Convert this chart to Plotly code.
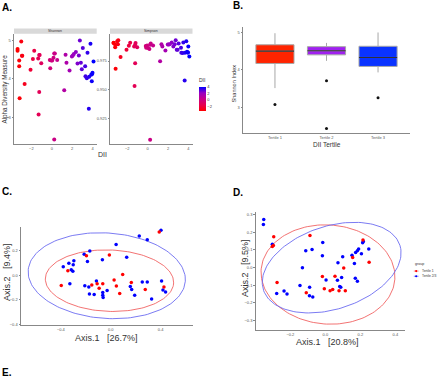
import numpy as np
import plotly.graph_objects as go

W, H = 440, 380
FONT = "Liberation Sans, Arial, sans-serif"

# ---------------- Panel A: alpha diversity vs DII ----------------
dii = [-3.35, -3.35, -3.19, -3.19, -3.15, -2.99, -2.89, -2.92, -2.66, -2.08,
       -1.85, -1.72, -1.33, -1.29, -1.23, -1.19, -1.23, -1.03, -0.19, -0.15,
       -0.06, 0.04, 0.17, 0.24, 0.24, 0.30, 0.53, 1.22, 1.35, 1.44,
       1.74, 1.97, 2.06, 2.16, 2.36, 2.52, 2.65, 2.75, 2.85, 2.94,
       3.04, 3.27, 3.30, 3.43, 3.50, 3.63, 3.66, 3.79, 3.86, 3.92,
       3.96, 3.99, 4.09]
shannon = [4.78, 4.73, 4.48, 4.33, 3.50, 4.97, 4.60, 4.60, 3.87, 4.24,
           4.52, 4.73, 4.53, 3.08, 4.62, 4.62, 3.66, 4.41, 4.49, 4.28,
           4.48, 4.48, 4.55, 4.66, 2.43, 4.66, 4.49, 3.71, 4.63, 4.42,
           4.22, 4.58, 4.61, 4.65, 4.70, 4.40, 4.61, 5.00, 4.42, 4.25,
           4.80, 4.33, 4.07, 4.02, 4.68, 3.23, 4.06, 4.91, 4.11, 3.94,
           4.13, 4.16, 4.45]
simpson = [0.9910, 0.9906, 0.9871, 0.9892, 0.9683, 0.9923, 0.9932, 0.9897, 0.9785, 0.9848,
           0.9883, 0.9909, 0.9877, 0.9533, 0.9892, 0.9906, 0.9730, 0.9871, 0.9880, 0.9866,
           0.9886, 0.9863, 0.9854, 0.9892, 0.9065, 0.9903, 0.9886, 0.9747, 0.9897, 0.9877,
           0.9842, 0.9895, 0.9895, 0.9897, 0.9912, 0.9877, 0.9897, 0.9932, 0.9848, 0.9848,
           0.9903, 0.9866, 0.9822, 0.9819, 0.9912, 0.9580, 0.9822, 0.9923, 0.9831, 0.9825,
           0.9825, 0.9877, 0.9790]
dii_ticks = [-2, 0, 2, 4]
shannon_ticks = [3, 4, 5]
simpson_ticks = [0.925, 0.950, 0.975]
dii_colorscale = [[0, "#FF0000"], [0.25, "#E7004F"], [0.5, "#C80088"],
                  [0.75, "#9900C2"], [1, "#0000FF"]]

# ---------------- Panel B: Shannon by DII tertile ----------------
tertiles = ["Tertile 1", "Tertile 2", "Tertile 3"]
b_q1 = [4.17, 4.40, 4.09]
b_med = [4.50, 4.51, 4.33]
b_q3 = [4.67, 4.62, 4.63]
b_lo = [3.51, 4.24, 3.93]
b_hi = [4.98, 4.72, 5.00]
b_out_idx = [0, 1, 1, 2]
b_out_val = [3.07, 3.71, 2.43, 3.25]
b_colors = ["#FF2400", "#A020F0", "#0A33FF"]

# ---------------- Panel C: PCoA ----------------
c_blue_x = [0.403, 0.229, 0.293, 0.043, -0.168, -0.213, 0.128, -0.187, -0.067, -0.296,
            -0.336, -0.381, -0.317, -0.304, -0.301, -0.115, -0.208, -0.176, -0.029, -0.064,
            -0.171, -0.133, -0.064, -0.061, -0.328, 0.157, 0.168, 0.253, 0.293, 0.408,
            0.419, 0.44, 0.192, 0.328]
c_blue_y = [0.363, 0.315, 0.285, 0.248, 0.195, 0.168, 0.144, 0.109, 0.123, 0.115,
            0.096, 0.067, 0.043, 0.032, 0.083, -0.048, -0.085, -0.096, -0.125, -0.141,
            -0.152, -0.157, -0.163, -0.181, -0.069, -0.091, -0.117, -0.056, -0.056, -0.048,
            -0.12, -0.136, -0.163, -0.192]
c_red_x = [0.389, -0.195, -0.011, -0.344, 0.096, 0.027, -0.109, -0.152, -0.064, -0.093,
           0.045, 0.072, -0.397, 0.165, 0.277, 0.427]
c_red_y = [0.349, 0.157, 0.163, 0.035, 0.005, -0.04, -0.069, -0.08, -0.069, -0.107,
           -0.088, -0.149, -0.083, -0.059, -0.117, -0.096]
# ellipse: centre x, centre y, semi-axis a, semi-axis b, angle (deg)
c_ell_blue = (-0.032, -0.005, 0.632, 0.345, -4)
c_ell_red = (-0.010, -0.045, 0.515, 0.248, -2)
c_xticks = [-0.4, 0.0, 0.4]
c_yticks = [-0.4, -0.2, 0.0, 0.2]

# ---------------- Panel D: PCoA ----------------
d_blue_x = [-0.352, -0.354, -0.303, -0.131, -0.112, -0.076, -0.015, -0.017, 0.004, 0.072,
            0.099, 0.093, 0.069, 0.082, 0.088, 0.152, 0.166, 0.173, 0.183, 0.19,
            0.206, 0.213, 0.217, 0.248, 0.171, 0.183, -0.278, -0.236, -0.219, -0.145,
            -0.09, -0.091, -0.072]
d_blue_y = [0.273, 0.244, 0.133, 0.0, 0.096, 0.103, 0.143, 0.068, -0.07, 0.028,
            0.062, -0.056, -0.071, -0.107, -0.111, 0.07, 0.023, 0.086, 0.096, 0.105,
            0.079, 0.141, 0.148, 0.105, -0.06, -0.077, -0.147, -0.133, -0.15, -0.102,
            -0.111, -0.16, -0.167]
d_red_x = [-0.295, -0.303, -0.297, -0.088, -0.276, -0.017, 0.055, 0.105, 0.156, 0.215,
           0.25, -0.006, 0.027, 0.042, 0.078, 0.114, -0.109]
d_red_y = [0.175, 0.12, 0.126, 0.182, -0.085, -0.051, -0.049, -0.002, 0.058, 0.156,
           0.03, -0.12, -0.131, -0.124, -0.131, -0.131, -0.143]
d_ell_blue = (0.036, 0.0, 0.41, 0.235, 18)
d_ell_red = (0.015, -0.039, 0.383, 0.281, -4)
d_xticks = [-0.2, 0.0, 0.2, 0.4]
d_yticks = [-0.3, -0.2, -0.1, 0.0, 0.1, 0.2, 0.3]
group_names = ["Tertile 1", "Tertile 2/3"]

RED, BLUE = "#FF0000", "#0000FF"
RED_ELL, BLUE_ELL = "rgba(240,90,90,0.85)", "rgba(100,100,240,0.85)"


def ellipse(p, n=160):
    cx, cy, a, b, ang = p
    t = np.linspace(0, 2 * np.pi, n)
    th = np.radians(ang)
    x = cx + a * np.cos(t) * np.cos(th) - b * np.sin(t) * np.sin(th)
    y = cy + a * np.cos(t) * np.sin(th) + b * np.sin(t) * np.cos(th)
    return x, y


def dx(a, b):
    return [a / W, b / W]


def dy(top, bottom):
    return [1 - bottom / H, 1 - top / H]


fig = go.Figure()

# Panel A
cmin, cmax = min(dii), max(dii)
fig.add_trace(go.Scatter(
    x=dii, y=shannon, mode="markers", xaxis="x", yaxis="y", showlegend=False,
    marker=dict(size=4, color=dii, colorscale=dii_colorscale, cmin=cmin, cmax=cmax,
                showscale=True,
                colorbar=dict(x=199 / W, xanchor="left", y=1 - 93.5 / H, yanchor="middle",
                              thickness=7, len=35, lenmode="pixels", outlinewidth=0,
                              tickvals=dii_ticks, ticks="", xpad=0, ypad=0,
                              tickfont=dict(size=4, color="#333", family=FONT),
                              title=dict(text="DII", side="top",
                                         font=dict(size=5, color="#333", family=FONT))))))
fig.add_trace(go.Scatter(
    x=dii, y=simpson, mode="markers", xaxis="x2", yaxis="y2", showlegend=False,
    marker=dict(size=4, color=dii, colorscale=dii_colorscale, cmin=cmin, cmax=cmax,
                showscale=False)))

# Panel B
for i, t in enumerate(tertiles):
    fig.add_trace(go.Box(
        x=[i], q1=[b_q1[i]], median=[b_med[i]], q3=[b_q3[i]],
        lowerfence=[b_lo[i]], upperfence=[b_hi[i]], xaxis="x3", yaxis="y3",
        fillcolor=b_colors[i], line=dict(color="#A8A8A8", width=1), width=0.74,
        whiskerwidth=0, boxpoints=False, showlegend=False, name=t))
    fig.add_trace(go.Scatter(
        x=[i - 0.37, i + 0.37], y=[b_med[i], b_med[i]], mode="lines",
        xaxis="x3", yaxis="y3", line=dict(color="#333333", width=1.2), showlegend=False,
        hoverinfo="skip"))
fig.add_trace(go.Scatter(
    x=b_out_idx, y=b_out_val, mode="markers", xaxis="x3", yaxis="y3",
    marker=dict(size=3, color="#111"), showlegend=False))

# Panel C
for p, col in [(c_ell_red, RED_ELL), (c_ell_blue, BLUE_ELL)]:
    ex, ey = ellipse(p)
    fig.add_trace(go.Scatter(x=ex, y=ey, mode="lines", xaxis="x4", yaxis="y4",
                             line=dict(color=col, width=1), showlegend=False,
                             hoverinfo="skip"))
fig.add_trace(go.Scatter(x=c_blue_x, y=c_blue_y, mode="markers", xaxis="x4", yaxis="y4",
                         marker=dict(size=3.5, color=BLUE), showlegend=False))
fig.add_trace(go.Scatter(x=c_red_x, y=c_red_y, mode="markers", xaxis="x4", yaxis="y4",
                         marker=dict(size=3.5, color=RED), showlegend=False))

# Panel D
for p, col in [(d_ell_red, RED_ELL), (d_ell_blue, BLUE_ELL)]:
    ex, ey = ellipse(p)
    fig.add_trace(go.Scatter(x=ex, y=ey, mode="lines", xaxis="x5", yaxis="y5",
                             line=dict(color=col, width=1), showlegend=False,
                             hoverinfo="skip"))
fig.add_trace(go.Scatter(x=d_blue_x, y=d_blue_y, mode="markers", xaxis="x5", yaxis="y5",
                         marker=dict(size=3.5, color=BLUE), showlegend=False))
fig.add_trace(go.Scatter(x=d_red_x, y=d_red_y, mode="markers", xaxis="x5", yaxis="y5",
                         marker=dict(size=3.5, color=RED), showlegend=False))

tickfont = dict(size=4, color="#555", family=FONT)
axbase = dict(showgrid=False, zeroline=False, showline=True, linecolor="#888",
              linewidth=1, ticks="outside", ticklen=1.5, tickwidth=0.6, tickcolor="#888",
              tickfont=tickfont, fixedrange=True)
xbase = dict(axbase, ticks="", ticklen=0)

layout = dict(
    width=W, height=H, margin=dict(l=0, r=0, t=0, b=0), autosize=False,
    paper_bgcolor="white", plot_bgcolor="white", showlegend=False,
    font=dict(family=FONT),
    xaxis=dict(xbase, domain=dx(14, 96.7), range=[-3.7, 4.4], tickvals=dii_ticks, anchor="y"),
    yaxis=dict(axbase, domain=dy(34, 145), range=[2.31, 5.17], tickvals=shannon_ticks, anchor="x"),
    xaxis2=dict(xbase, domain=dx(110, 192.5), range=[-3.7, 4.4], tickvals=dii_ticks, anchor="y2"),
    yaxis2=dict(axbase, domain=dy(34, 145), range=[0.9025, 0.9987], tickvals=simpson_ticks,
                tickformat=".3f", anchor="x2"),
    xaxis3=dict(xbase, domain=dx(243, 410), range=[-0.62, 2.62], tickvals=[0, 1, 2],
                ticktext=tertiles, anchor="y3"),
    yaxis3=dict(axbase, domain=dy(27, 134), range=[2.30, 5.15], tickvals=shannon_ticks, anchor="x3"),
    xaxis4=dict(xbase, domain=dx(21, 193), range=[-0.72, 0.66], tickvals=c_xticks,
                tickformat=".1f", anchor="y4"),
    yaxis4=dict(axbase, domain=dy(228, 327), range=[-0.405, 0.39], tickvals=c_yticks,
                tickformat=".1f", anchor="x4"),
    xaxis5=dict(xbase, domain=dx(255.7, 405), range=[-0.398, 0.455], tickvals=d_xticks,
                tickformat=".1f", anchor="y5"),
    yaxis5=dict(axbase, domain=dy(213, 332), range=[-0.355, 0.316], tickvals=d_yticks,
                tickformat=".1f", anchor="x5"),
)

shapes = []
annotations = []


def ann(text, px, py, size, color="#222", bold=False, angle=0, xanchor="center",
        yanchor="middle"):
    annotations.append(dict(
        text=f"<b>{text}</b>" if bold else text, x=px / W, y=1 - py / H,
        xref="paper", yref="paper", showarrow=False, textangle=angle,
        xanchor=xanchor, yanchor=yanchor, borderpad=0,
        font=dict(size=size, color=color, family=FONT)))


# Facet strips
for (x0, x1, lab) in [(14, 96.7, "Shannon"), (110, 192.5, "Simpson")]:
    shapes.append(dict(type="rect", xref="paper", yref="paper", x0=x0 / W, x1=x1 / W,
                       y0=1 - 34 / H, y1=1 - 28.7 / H, fillcolor="#D9D9D9",
                       line=dict(width=0), layer="below"))
    ann(lab, (x0 + x1) / 2, 31.4, 3.5, color="#333")

# Panel labels
ann("A.", 0.5, 7.3, 10, color="#000", bold=True, xanchor="left")
ann("B.", 232, 5.6, 10, color="#000", bold=True, xanchor="left")
ann("C.", 1, 192.3, 10, color="#000", bold=True, xanchor="left")
ann("D.", 231.5, 193.3, 10, color="#000", bold=True, xanchor="left")
ann("E.", 0.5, 374.8, 10, color="#000", bold=True, xanchor="left")

# Axis titles
ann("Alpha Diversity Measure", 5, 90, 6.3, color="#333", angle=-90)
ann("DII", 102.7, 155.0, 7, color="#333")
ann("Shannon Index", 234.5, 84.5, 5.6, color="#333", angle=-90)
ann("DII Tertile", 326.5, 144.8, 6.5, color="#333")
ann("Axis.1   [26.7%]", 106.5, 339.4, 9, color="#333")
ann("Axis.2   [9.4%]", 6.5, 274, 9, color="#333", angle=-90)
ann("Axis.1   [20.8%]", 327, 343.8, 9, color="#333")
ann("Axis.2   [9.5%]", 244.5, 270, 9, color="#333", angle=-90)

# Manual legend for panel D
ann("group", 413.5, 265.6, 3.6, color="#333", xanchor="left")
for k, (name, col) in enumerate(zip(group_names, [RED, BLUE])):
    yy = 272.5 + k * 5.2
    shapes.append(dict(type="line", xref="paper", yref="paper",
                       x0=413.8 / W, x1=418.6 / W, y0=1 - yy / H, y1=1 - yy / H,
                       line=dict(color=[RED_ELL, BLUE_ELL][k], width=0.8)))
    shapes.append(dict(type="circle", xref="paper", yref="paper",
                       x0=415.1 / W, x1=417.3 / W, y0=1 - (yy + 1.1) / H, y1=1 - (yy - 1.1) / H,
                       fillcolor=col, line=dict(width=0)))
    ann(name, 420.5, yy, 3.3, color="#333", xanchor="left")

layout["shapes"] = shapes
layout["annotations"] = annotations
fig.update_layout(**layout)
fig.write_html("out.html", config={"displayModeBar": False},
               post_script="document.body.style.margin='0px';")
